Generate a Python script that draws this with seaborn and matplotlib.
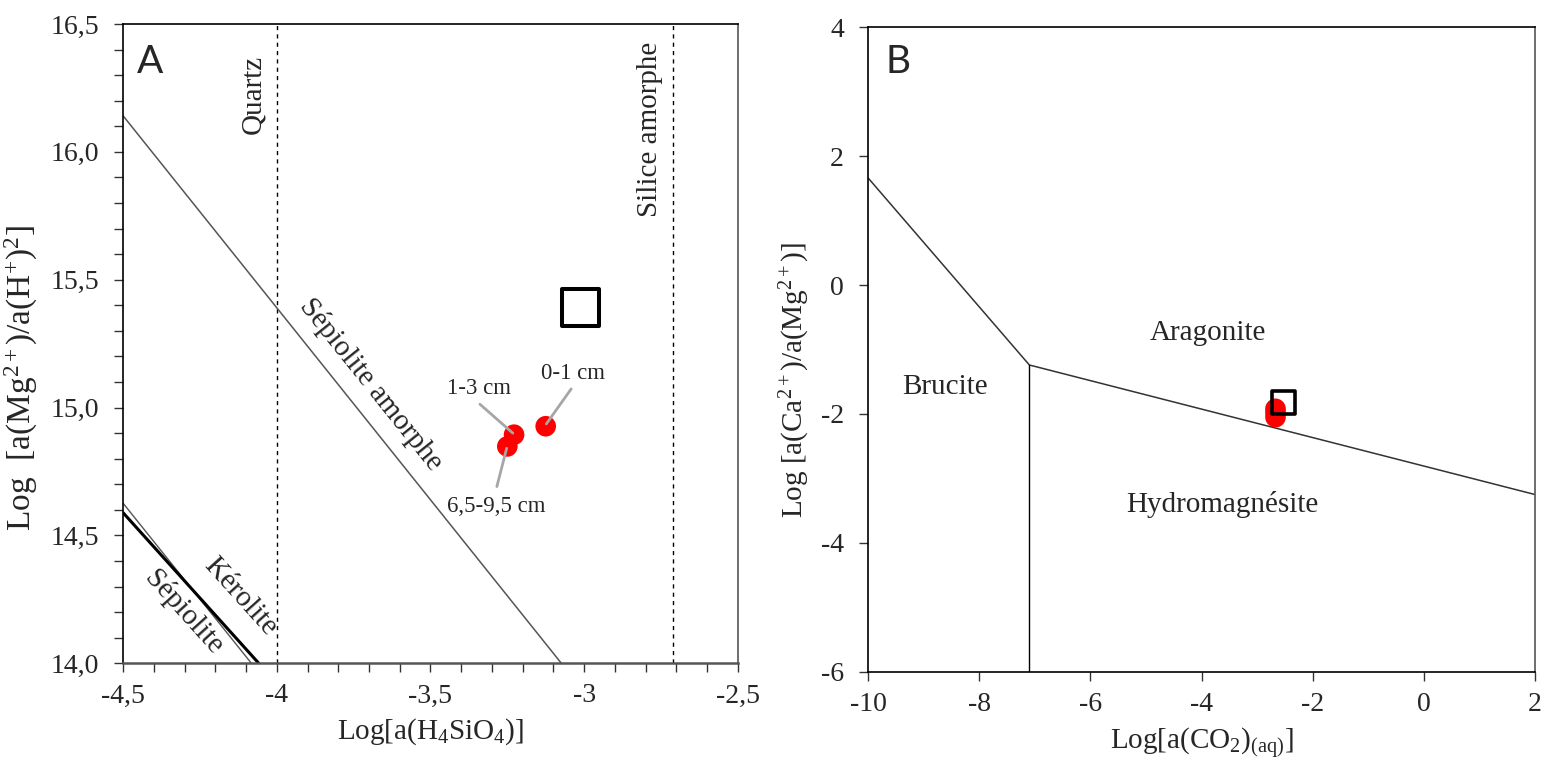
import matplotlib
matplotlib.use("Agg")
import matplotlib.pyplot as plt
import seaborn as sns
from matplotlib.ticker import MultipleLocator, FuncFormatter

# Panel A: log a(H4SiO4) vs log a(Mg2+)/a(H+)^2
quartz_x = -4.0
silice_amorphe_x = -2.71
sep_amorphe_x = [-4.5, -3.074]
sep_amorphe_y = [16.14, 14.0]
sepiolite_x = [-4.5, -4.083]
sepiolite_y = [14.625, 14.0]
kerolite_x = [-4.5, -4.059]
kerolite_y = [14.588, 14.0]

sample_labels = ['0-1 cm', '1-3 cm', '6,5-9,5 cm']
sample_si = [-3.125, -3.228, -3.250]
sample_mg = [14.927, 14.894, 14.848]
square_a_x = [-3.013]
square_a_y = [15.39]

# Panel B: log a(CO2) vs log a(Ca2+)/a(Mg2+)
boundary_x = [-10.0, -7.1, 2.0]
boundary_y = [1.66, -1.24, -3.25]
brucite_x = [-7.1, -7.1]
brucite_y = [-1.24, -6.0]
sample_co2 = [-2.67, -2.67, -2.67]
sample_ca = [-1.92, -1.98, -2.05]
square_b_x = [-2.53]
square_b_y = [-1.82]

sns.set_style("ticks")
plt.rcParams['font.family'] = ['Liberation Serif', 'DejaVu Serif']
plt.rcParams['mathtext.fontset'] = 'custom'
plt.rcParams['mathtext.rm'] = 'Liberation Serif'
plt.rcParams['mathtext.it'] = 'Liberation Serif:italic'

fig = plt.figure(figsize=(15.43, 7.61), dpi=100)
axA = fig.add_axes([0.0799, 0.1284, 0.3982, 0.8401])
axB = fig.add_axes([0.5627, 0.1173, 0.4321, 0.8468])

GREY = '#555555'
FS_TICK = 20
FS_LAB = 21

# ---------- panel A ----------
axA.axvline(quartz_x, color='black', lw=1, ls=(0, (3, 3)))
axA.axvline(silice_amorphe_x, color='black', lw=1, ls=(0, (3, 3)))
sns.lineplot(x=sep_amorphe_x, y=sep_amorphe_y, ax=axA, color=GREY, lw=1.1,
             estimator=None, sort=False)
sns.lineplot(x=sepiolite_x, y=sepiolite_y, ax=axA, color=GREY, lw=1.0,
             estimator=None, sort=False)
sns.lineplot(x=kerolite_x, y=kerolite_y, ax=axA, color='black', lw=2.2,
             estimator=None, sort=False)

# leader lines for the sample labels (text centre, leader start, leader end)
leaders = [((-3.036, 15.135), (-3.042, 15.073), (-3.123, 14.936)),
           ((-3.341, 15.075), (-3.339, 15.013), (-3.232, 14.900)),
           ((-3.287, 14.615), (-3.284, 14.691), (-3.252, 14.841))]
for lab, (txt, p0, p1) in zip(sample_labels, leaders):
    axA.plot([p0[0], p1[0]], [p0[1], p1[1]], color='#a6a6a6', lw=2, zorder=4)
    axA.text(txt[0], txt[1], lab, fontsize=16.5, ha='center', va='center')

sns.scatterplot(x=sample_si, y=sample_mg, ax=axA, color='red', s=220,
                edgecolor='none', zorder=3)
axA.scatter(square_a_x, square_a_y, marker='s', s=26.6 ** 2, facecolors='none',
            edgecolors='black', linewidths=2.9, zorder=3)

axA.text(-4.413, 16.352, 'A', fontsize=28, family=['Lato', 'DejaVu Sans'],
         ha='center', va='center')
axA.text(-4.078, 16.226, 'Quartz', fontsize=FS_LAB, rotation=90,
         ha='center', va='center', rotation_mode='anchor')
axA.text(-2.785, 16.086, 'Silice amorphe', fontsize=FS_LAB, rotation=90,
         ha='center', va='center', rotation_mode='anchor')
axA.text(-3.694, 15.092, 'Sépiolite amorphe', fontsize=FS_LAB, rotation=-51.3,
         ha='center', va='center', rotation_mode='anchor')
axA.text(-4.120, 14.260, 'Kérolite', fontsize=FS_LAB, rotation=-48,
         ha='center', va='center', rotation_mode='anchor')
axA.text(-4.305, 14.199, 'Sépiolite', fontsize=FS_LAB, rotation=-48,
         ha='center', va='center', rotation_mode='anchor')

axA.set_xlim(-4.5, -2.5)
axA.set_ylim(14.0, 16.5)
axA.xaxis.set_major_locator(MultipleLocator(0.5))
axA.xaxis.set_minor_locator(MultipleLocator(0.1))
axA.yaxis.set_major_locator(MultipleLocator(0.5))
axA.yaxis.set_minor_locator(MultipleLocator(0.1))
axA.xaxis.set_major_formatter(FuncFormatter(lambda v, p: f"{v:g}".replace('.', ',')))
axA.yaxis.set_major_formatter(FuncFormatter(lambda v, p: f"{v:.1f}".replace('.', ',')))
axA.set_xlabel('Log[a(H$_4$SiO$_4$)]', fontsize=FS_LAB)
axA.set_ylabel('Log  [a(Mg$^{2+}$)/a(H$^{+}$)$^{2}$]', fontsize=24)

# ---------- panel B ----------
sns.lineplot(x=boundary_x, y=boundary_y, ax=axB, color='#333333', lw=1.1,
             estimator=None, sort=False)
sns.lineplot(x=brucite_x, y=brucite_y, ax=axB, color='black', lw=1.0,
             estimator=None, sort=False)
sns.scatterplot(x=sample_co2, y=sample_ca, ax=axB, color='red', s=220,
                edgecolor='none', zorder=3)
axB.scatter(square_b_x, square_b_y, marker='s', s=16.8 ** 2, facecolors='none',
            edgecolors='black', linewidths=2.6, zorder=4)

axB.text(-9.47, 3.46, 'B', fontsize=28, family=['Lato', 'DejaVu Sans'],
         ha='center', va='center')
axB.text(-3.89, -0.75, 'Aragonite', fontsize=FS_LAB, ha='center', va='center')
axB.text(-8.62, -1.58, 'Brucite', fontsize=FS_LAB, ha='center', va='center')
axB.text(-3.62, -3.41, 'Hydromagnésite', fontsize=FS_LAB, ha='center', va='center')

axB.set_xlim(-10, 2)
axB.set_ylim(-6, 4)
axB.xaxis.set_major_locator(MultipleLocator(2))
axB.yaxis.set_major_locator(MultipleLocator(2))
axB.xaxis.set_major_formatter(FuncFormatter(lambda v, p: f"{v:g}"))
axB.yaxis.set_major_formatter(FuncFormatter(lambda v, p: f"{v:g}"))
axB.set_xlabel('Log[a(CO$_2$)$_{\\mathrm{(aq)}}$]', fontsize=FS_LAB)
axB.set_ylabel('Log [a(Ca$^{2+}$)/a(Mg$^{2+}$)]', fontsize=FS_LAB)

for ax in (axA, axB):
    ax.tick_params(which='both', direction='out', length=6.5, width=1,
                   labelsize=FS_TICK, color='#333333')
    ax.tick_params(axis='x', pad=8)
    ax.tick_params(axis='y', pad=11)
    for s in ax.spines.values():
        s.set_color('black')
        s.set_linewidth(1.2)
    ax.xaxis.labelpad = 6

# y labels sit a little below the axes centre in the reference
axA.yaxis.set_label_coords(-0.135, 0.446)
axB.yaxis.set_label_coords(-0.085, 0.453)

axA.spines['bottom'].set_color(GREY)
axA.spines['bottom'].set_linewidth(1.8)
axA.spines['right'].set_color(GREY)
axB.spines['right'].set_color(GREY)

fig.savefig('out.png', dpi=100)
